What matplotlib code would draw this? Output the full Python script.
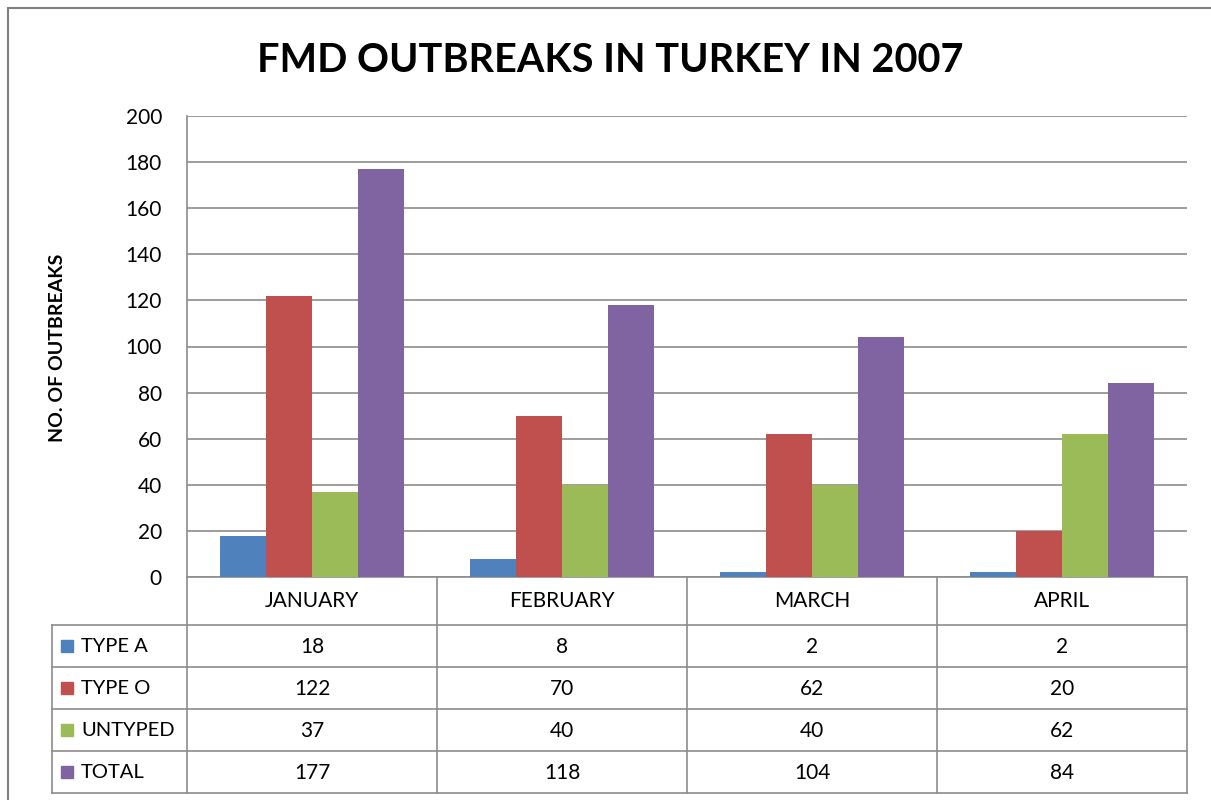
import matplotlib
matplotlib.use('Agg')
import matplotlib.pyplot as plt
from matplotlib.lines import Line2D
from matplotlib.patches import Rectangle
import numpy as np

months = ['JANUARY', 'FEBRUARY', 'MARCH', 'APRIL']
series = ['TYPE A', 'TYPE O', 'UNTYPED', 'TOTAL']
type_a = [18, 8, 2, 2]
type_o = [122, 70, 62, 20]
untyped = [37, 40, 40, 62]
total = [177, 118, 104, 84]
colors = ['#4F81BD', '#C0504D', '#9BBB59', '#8064A2']

W, H = 1211, 800
GRID = '#8c8c8c'
FONT = ['Lato', 'DejaVu Sans']
plt.rcParams['font.family'] = FONT

fig = plt.figure(figsize=(W / 100, H / 100), dpi=100)


def fx(px):
    return px / W


def fy(py):
    return 1 - py / H


# outer chart frame
fig.add_artist(Rectangle((fx(8), fy(805)), fx(1220) - fx(8), fy(8) - fy(805),
                         transform=fig.transFigure, fill=False,
                         edgecolor='#7f7f7f', lw=1.5))

left, right, top, bottom = 187, 1187, 116, 577
ax = fig.add_axes([fx(left), fy(bottom), fx(right) - fx(left), fy(top) - fy(bottom)])

values = [type_a, type_o, untyped, total]
x = np.arange(len(months))
bw = 0.184
for i, (vals, c) in enumerate(zip(values, colors)):
    ax.bar(x + (i - 1.5) * bw, vals, bw, color=c, zorder=3)

ax.set_xlim(-0.5, len(months) - 0.5)
ax.set_ylim(0, 200)
ax.set_yticks(range(0, 201, 20))
ax.yaxis.grid(True, color=GRID, lw=1.2)
ax.set_axisbelow(True)
ax.tick_params(axis='y', length=0, pad=18, labelsize=15)
ax.tick_params(axis='x', length=0, labelbottom=False)
for s in ['top', 'right']:
    ax.spines[s].set_visible(False)
for s in ['left', 'bottom']:
    ax.spines[s].set_color(GRID)
    ax.spines[s].set_linewidth(1.2)

fig.text(fx(610), fy(60), 'FMD OUTBREAKS IN TURKEY IN 2007', ha='center',
         va='center', fontsize=28.5, fontweight='bold')
fig.text(fx(58), fy(348), 'NO. OF OUTBREAKS', rotation=90, ha='center',
         va='center', fontsize=14, fontweight='bold')

# data table
col_edges = [187, 437, 687, 937, 1187]
row_edges = [625, 667, 709, 751, 793]


def hline(y, x0, x1):
    fig.add_artist(Line2D([fx(x0), fx(x1)], [fy(y), fy(y)], color=GRID, lw=1.2,
                          transform=fig.transFigure))


def vline(x0, y0, y1):
    fig.add_artist(Line2D([fx(x0), fx(x0)], [fy(y0), fy(y1)], color=GRID, lw=1.2,
                          transform=fig.transFigure))


for y in row_edges:
    hline(y, 52, 1187)
for xe in col_edges:
    vline(xe, 577, 793)
vline(52, 625, 793)

for j, m in enumerate(months):
    cx = (col_edges[j] + col_edges[j + 1]) / 2
    fig.text(fx(cx), fy(601), m, ha='center', va='center', fontsize=15)

for i, (name, vals, c) in enumerate(zip(series, values, colors)):
    cy = (row_edges[i] + row_edges[i + 1]) / 2
    fig.add_artist(Rectangle((fx(61), fy(cy + 6)), fx(12), 12 / H,
                             transform=fig.transFigure, color=c))
    fig.text(fx(81), fy(cy), name, ha='left', va='center', fontsize=14.5)
    for j, v in enumerate(vals):
        cx = (col_edges[j] + col_edges[j + 1]) / 2
        fig.text(fx(cx), fy(cy + 1), str(v), ha='center', va='center', fontsize=15)

fig.savefig('out.png', dpi=100)
